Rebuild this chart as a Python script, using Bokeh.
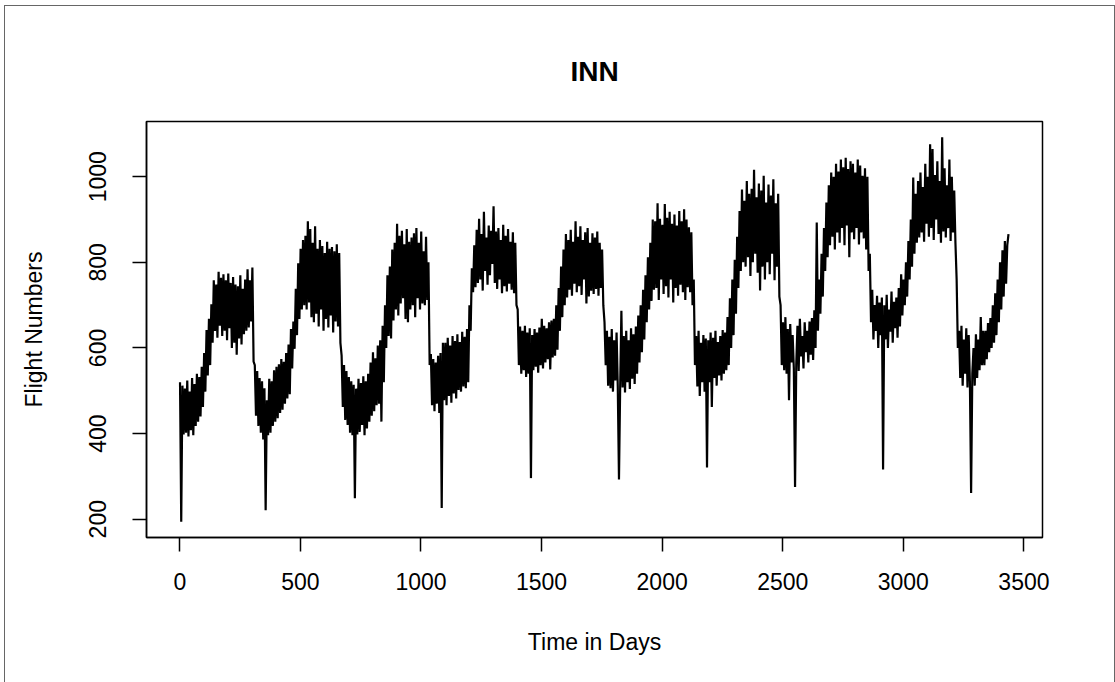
from bokeh.plotting import figure
from bokeh.models import Range1d, FixedTicker, InlineStyleSheet
from bokeh.embed import file_html
from bokeh.resources import INLINE

FONT = "Liberation Sans"

# Daily flight numbers, every 5 days (alternating daily highs / lows)
year1 = [520, 194, 512, 398, 505, 402, 524, 393, 498, 408,
         530, 396, 516, 418, 540, 428, 532, 440, 556, 462,
         588, 498, 642, 536, 668, 560, 702, 612, 758, 640,
         748, 624, 778, 652, 764, 628, 772, 640, 758, 618,
         774, 646, 752, 600, 766, 612, 748, 584, 744, 622,
         770, 608, 738, 632, 760, 640, 784, 648, 758, 662,
         788, 568, 560, 442, 546, 418, 530, 402, 522, 386,
         506, 221, 478]
year2 = [396, 528, 402, 522, 418, 548, 428, 556, 436, 562,
         448, 574, 456, 568, 470, 588, 482, 608, 492, 644,
         552, 662, 598, 738, 630, 798, 668, 832, 690, 852,
         700, 862, 690, 896, 706, 878, 672, 846, 660, 884,
         680, 832, 650, 852, 690, 838, 640, 822, 668, 848,
         648, 832, 676, 836, 636, 826, 662, 842, 650, 822,
         612, 582, 462, 560, 432, 546, 420, 532, 402, 522,
         396, 514, 249]
year3 = [505, 398, 528, 404, 518, 420, 534, 396, 522, 412,
         540, 428, 566, 442, 590, 452, 576, 466, 606, 470,
         618, 428, 652, 520, 700, 600, 770, 628, 790, 622,
         830, 664, 846, 690, 890, 676, 862, 704, 874, 716,
         842, 668, 878, 660, 848, 690, 858, 700, 868, 672,
         880, 716, 846, 690, 872, 704, 826, 700, 860, 712,
         800, 560, 586, 466, 574, 452, 566, 470, 582, 448,
         588, 226, 612]
year4 = [478, 612, 466, 624, 488, 606, 472, 628, 494, 616,
         482, 632, 502, 614, 498, 638, 510, 626, 506, 644,
         520, 700, 640, 786, 730, 840, 742, 876, 752, 902,
         760, 866, 734, 918, 780, 858, 748, 886, 770, 874,
         796, 931, 752, 872, 738, 880, 760, 852, 728, 888,
         744, 862, 732, 878, 750, 848, 736, 870, 728, 846,
         700, 690, 560, 650, 540, 640, 548, 652, 532, 636,
         540, 646, 296]
year5 = [630, 548, 644, 556, 636, 542, 648, 560, 668, 552,
         652, 566, 646, 574, 660, 550, 664, 578, 668, 582,
         700, 596, 740, 640, 790, 672, 830, 700, 866, 718,
         852, 736, 876, 722, 848, 750, 896, 730, 860, 744,
         884, 724, 852, 760, 870, 704, 880, 720, 846, 734,
         868, 726, 858, 738, 872, 722, 846, 740, 830, 700,
         660, 560, 640, 512, 626, 506, 644, 498, 618, 524,
         636, 510, 293]
year6 = [512, 687, 508, 628, 496, 640, 520, 618, 504, 646,
         528, 632, 516, 650, 540, 676, 566, 700, 590, 736,
         620, 770, 660, 812, 690, 846, 710, 900, 736, 896,
         740, 938, 712, 902, 760, 888, 726, 936, 744, 904,
         718, 918, 760, 890, 706, 912, 740, 886, 722, 920,
         748, 896, 730, 924, 712, 900, 742, 882, 730, 870,
         700, 760, 560, 628, 510, 640, 488, 612, 520, 630,
         498, 622, 321]
year7 = [618, 520, 636, 462, 624, 530, 640, 512, 614, 536,
         628, 524, 642, 540, 636, 548, 672, 560, 716, 600,
         760, 630, 806, 680, 860, 740, 920, 780, 970, 800,
         944, 790, 990, 812, 960, 768, 972, 800, 1016, 820,
         952, 776, 984, 734, 968, 790, 1002, 760, 940, 800,
         982, 772, 956, 820, 994, 758, 938, 790, 960, 720,
         700, 560, 660, 548, 672, 540, 644, 478, 656, 566,
         630, 552, 275]
year8 = [560, 652, 546, 668, 580, 628, 552, 660, 590, 640,
         566, 662, 584, 670, 572, 688, 600, 893, 640, 760,
         680, 820, 720, 880, 780, 940, 812, 980, 840, 1010,
         860, 1000, 830, 1030, 870, 1012, 846, 1040, 880, 1022,
         840, 1044, 886, 1018, 812, 1036, 870, 1030, 854, 1010,
         880, 1040, 842, 1026, 870, 1002, 856, 1020, 830, 1000,
         780, 820, 660, 736, 620, 700, 640, 722, 600, 706,
         630, 718, 316]
year9 = [700, 620, 724, 600, 690, 638, 732, 612, 708, 646,
         718, 624, 740, 650, 772, 676, 760, 700, 800, 720,
         850, 760, 900, 790, 998, 820, 960, 846, 990, 858,
         1010, 870, 976, 848, 1030, 890, 1000, 860, 1076, 880,
         1065, 852, 1004, 900, 1036, 866, 990, 846, 1092, 872,
         1020, 858, 980, 880, 1040, 850, 1000, 870, 968, 846,
         760, 600, 640, 530, 652, 512, 620, 540, 646, 508,
         630, 520, 261]
year10 = [540, 600, 512, 632, 530, 620, 548, 672, 560, 640,
          560, 640, 574, 658, 590, 670, 600, 700, 612, 728,
          630, 760, 660, 800, 690, 828, 720, 850, 750, 840,
          866]

x_ticks = [0, 500, 1000, 1500, 2000, 2500, 3000, 3500]
y_ticks = [200, 400, 600, 800, 1000]

flights = (year1 + year2 + year3 + year4 + year5 + year6 + year7 + year8 + year9 + year10)
days = [1 + 5 * i for i in range(len(flights))]

frame_css = InlineStyleSheet(css="""
:host::after {
  content: "";
  position: absolute;
  left: 4px;
  top: 5px;
  width: 1109px;
  height: 700px;
  border-left: 1px solid #666666;
  border-top: 1px solid #666666;
  border-right: 1px solid #666666;
  pointer-events: none;
  z-index: 10;
}
""")

p = figure(width=1115, height=682, output_backend="svg", toolbar_location=None,
           x_range=Range1d(-138, 3577), y_range=Range1d(157.3, 1129),
           min_border_left=146, min_border_right=73, min_border_top=121,
           min_border_bottom=145, title="INN", stylesheets=[frame_css])

p.line(days, flights, line_color="black", line_width=2.2, line_join="miter")

p.title.align = "center"
p.title.text_font = FONT
p.title.text_font_size = "28px"
p.title.text_font_style = "bold"
p.title.text_color = "black"
p.title.standoff = 70

p.xgrid.visible = False
p.ygrid.visible = False
p.outline_line_color = "black"
p.outline_line_width = 1.5
p.outline_line_alpha = 1.0

p.xaxis.ticker = FixedTicker(ticks=x_ticks)
p.yaxis.ticker = FixedTicker(ticks=y_ticks)
p.xaxis.axis_label = "Time in Days"
p.yaxis.axis_label = "Flight Numbers"
p.yaxis.major_label_orientation = "vertical"

for ax in (p.xaxis[0], p.yaxis[0]):
    ax.major_tick_out = 14
    ax.major_tick_in = 0
    ax.minor_tick_out = 0
    ax.minor_tick_in = 0
    ax.major_tick_line_width = 1.5
    ax.major_tick_line_color = "black"
    ax.axis_line_width = 1.5
    ax.axis_line_color = "black"
    ax.major_label_text_font = FONT
    ax.major_label_text_font_size = "23px"
    ax.major_label_text_color = "black"
    ax.axis_label_text_font = FONT
    ax.axis_label_text_font_size = "23px"
    ax.axis_label_text_font_style = "normal"
    ax.axis_label_text_color = "black"

p.xaxis.major_label_standoff = 21
p.xaxis.axis_label_standoff = 36
p.yaxis.major_label_standoff = 26
p.yaxis.axis_label_standoff = 40

open("out.html", "w").write(file_html(p, INLINE))
